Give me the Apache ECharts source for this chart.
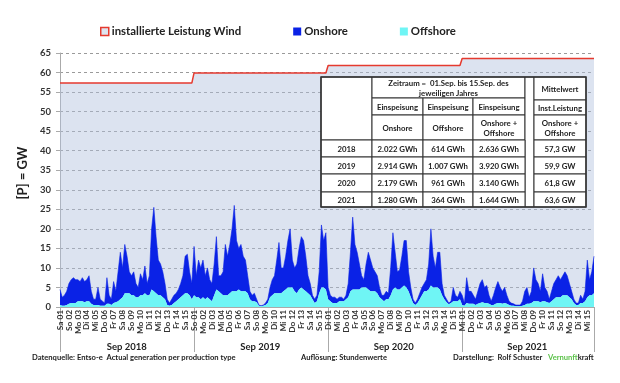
<!DOCTYPE html>
<html>
<head>
<meta charset="utf-8">
<script src="https://cdn.jsdelivr.net/npm/echarts@6/dist/echarts.min.js"></script>
<style>html,body{margin:0;padding:0;background:#fff}#c{width:620px;height:383px}</style>
</head>
<body>
<div id="c"></div>
<script>
// ---- data (6-hour resolution) ----
const years = ['2018', '2019', '2020', '2021'];
const yearAxisLabels = ['Sep 2018', 'Sep 2019', 'Sep 2020', 'Sep 2021'];
const dayLabels2018 = ['Sa 01','So 02','Mo 03','Di 04','Mi 05','Do 06','Fr 07','Sa 08','So 09','Mo 10','Di 11','Mi 12','Do 13','Fr 14','Sa 15'];
const dayLabels2019 = ['So 01','Mo 02','Di 03','Mi 04','Do 05','Fr 06','Sa 07','So 08','Mo 09','Di 10','Mi 11','Do 12','Fr 13','Sa 14','So 15'];
const dayLabels2020 = ['Di 01','Mi 02','Do 03','Fr 04','Sa 05','So 06','Mo 07','Di 08','Mi 09','Do 10','Fr 11','Sa 12','So 13','Mo 14','Di 15'];
const dayLabels2021 = ['Mi 01','Do 02','Fr 03','Sa 04','So 05','Mo 06','Di 07','Mi 08','Do 09','Fr 10','Sa 11','So 12','Mo 13','Di 14','Mi 15'];
const slotHours = ['00', '06', '12', '18'];

const onshore2018 = [4.0,2.2,2.7,3.5, 5.2,6.0,6.5,6.0, 5.5,5.0,6.0,5.3, 5.5,6.5,3.2,1.5, 1.5,4.5,1.7,1.2,
  0.7,6.7,2.2,1.5, 5.5,2.8,7.5,12, 7.5,12.5,9.5,5.5, 5.0,6.0,3.5,2.5, 5.5,4.0,7.0,3.0,
  5.0,15.5,21.5,14.5, 9.0,8.0,6.5,4.0, 1.5,0.7,1.5,2.0, 2.0,2.5,3.5,5.0, 9.5,10,6,4];
const offshore2018 = [0.5,0.3,0.3,0.5, 0.8,1,1,1, 1.5,1.5,1.5,1.2, 1.5,1.5,0.8,0.5, 0.5,0.5,0.3,0.3,
  0.3,0.8,0.8,0.5, 1,1.2,1.5,2, 2.5,3.5,3.5,3.5, 3,3,2.5,2.5, 3,3,3.5,3,
  3,4.5,4,3.5, 3,3,2.5,2, 0.5,0.3,0.5,1, 1.5,2,2.5,3, 3.5,3.5,3,2];
const onshore2019 = [12.5,5.5,9.5,8, 9.5,6,7.5,5, 4.5,8,13.5,4, 4.5,6,13,10, 12.5,16,22,13,
  10.5,12,9,8, 4.5,2,1.5,2, 0.8,0.2,0.1,0.2, 0.5,1,2.5,4, 4.5,8.5,13,6.5,
  6,8.5,12,15, 7,6,7.5,10.5, 13,12.5,9,4.5, 3,1,1,1.5, 5.5,16,12,14.5];
const offshore2019 = [3,2.5,2.5,2, 2.5,2,2.5,2, 1.5,3,4.5,4, 3.5,3,3,3, 3.5,4,4,4,
  4.5,4,4,4, 3.5,2,1.5,1.5, 1.2,0.3,0.2,0.3, 0.5,1,2.5,3, 3.5,3.5,3.5,3.5,
  4,4.5,5,5, 5,4,3.5,4.5, 5,4.5,4,3.5, 3,2,1,1.5, 3.5,5,5,4.5];
const onshore2020 = [3,1.5,1.5,1.5, 1,1,1,0.5, 1,3.5,10,18.5, 11.5,9.5,6.5,3, 2,6,9.5,8,
  6,5,4.5,2.5, 1,1.5,2,1.5, 7,14.5,9,4.5, 5,8,11.5,12, 5,2.5,1,0.5,
  1,1.5,2,2, 3,6.5,14.5,8, 5,9,9.5,3, 1,0.8,0.3,0.5, 3.5,1.5,1,2];
const offshore2020 = [2,1.5,1,1, 1,1.5,1.5,1.5, 2,2.5,4,4.5, 4.5,4.5,4.5,5, 5,5,4.5,4,
  4,4,3.5,2.5, 2,1.5,2,2, 3,4.5,5,4.5, 4.5,5,5.5,5, 4,2.5,1,0.5,
  1,2,3,4, 4,4.5,5.5,5, 5,5,4.5,3, 2,1.2,0.7,1, 1.5,1.5,1.5,2];
const onshore2021 = [2.5,0.7,6.5,3.2, 3.2,2.2,1.5,3.2, 5,5.8,4,4.5, 2.2,1,2.5,4.2, 5.5,4,3.2,4,
  2.2,1,0.7,0.5, 0.3,0.3,0.3,1.2, 3.5,4.2,1.7,3, 8.5,5.5,4.5,2.8, 7,3.5,2.8,1,
  2.5,4,4.5,5.5, 4.5,5,6,5, 3.5,2,1,0.5, 0.5,2,1,2.5, 9.5,4,6,9.5];
const offshore2021 = [0.5,0.3,1,0.8, 0.8,0.8,0.5,0.8, 1,1.2,1,1, 0.8,0.5,0.5,0.8, 1,1,0.8,1,
  0.8,0.5,0.3,0.3, 0.2,0.2,0.2,0.3, 0.5,0.8,0.8,1, 1.5,1.5,1.5,1.2, 1.5,1.5,1.2,1,
  1.5,2,2.5,2.5, 2.5,3,3,3, 2.5,2,1,0.5, 0.5,1,1,1.5, 2.5,3,3,3.5];

const installedGW = [57.3, 59.9, 61.8, 63.6];

// table texts
const tableOnshore = ['2.022 GWh', '2.914 GWh', '2.179 GWh', '1.280 GWh'];
const tableOffshore = ['614 GWh', '1.007 GWh', '961 GWh', '364 GWh'];
const tableTotal = ['2.636 GWh', '3.920 GWh', '3.140 GWh', '1.644 GWh'];

const yTicks = {min: 0, max: 65, interval: 5};

// ---- build ----
const dayLabels = [dayLabels2018, dayLabels2019, dayLabels2020, dayLabels2021];
const onshoreAll = [].concat(onshore2018, onshore2019, onshore2020, onshore2021);
const offshoreAll = [].concat(offshore2018, offshore2019, offshore2020, offshore2021);
const categories = [];
const capacityAll = [];
years.forEach((y, yi) => {
  dayLabels[yi].forEach(d => {
    slotHours.forEach(h => {
      categories.push(y + '|' + d + '|' + h);
      capacityAll.push(installedGW[yi]);
    });
  });
});
const N = categories.length;
const perYear = N / years.length;

const FONT = 'Lato';
const chart = echarts.init(document.getElementById('c'), null, {renderer: 'canvas'});

// table graphic
const X = [321, 372, 423, 473, 525, 534, 586];
const Y = [77, 98, 115, 140, 157, 174, 192, 207];
const tableEls = [];
function cell(x0, y0, x1, y1, text) {
  tableEls.push({type: 'rect', shape: {x: x0, y: y0, width: x1 - x0, height: y1 - y0},
    style: {fill: '#fff', stroke: '#333', lineWidth: 1}, z: 100});
  if (text) {
    tableEls.push({type: 'text', x: (x0 + x1) / 2, y: (y0 + y1) / 2 + 0.5, z: 101,
      style: {text: text, align: 'center', verticalAlign: 'middle', fontSize: 7.8, fontWeight: 'bold',
        fontFamily: FONT, fill: '#222', lineHeight: 10}});
  }
}
cell(X[0], Y[0], X[1], Y[3], '');
cell(X[1], Y[0], X[4], Y[1], 'Zeitraum =  01.Sep. bis 15.Sep. des\njeweiligen Jahres');
cell(X[1], Y[1], X[2], Y[2], 'Einspeisung');
cell(X[2], Y[1], X[3], Y[2], 'Einspeisung');
cell(X[3], Y[1], X[4], Y[2], 'Einspeisung');
cell(X[1], Y[2], X[2], Y[3], 'Onshore');
cell(X[2], Y[2], X[3], Y[3], 'Offshore');
cell(X[3], Y[2], X[4], Y[3], 'Onshore +\nOffshore');
cell(X[4], Y[0], X[5], Y[7], '');
cell(X[5], Y[0], X[6], Y[1] + 2, 'Mittelwert');
cell(X[5], Y[1] + 2, X[6], Y[2], 'Inst.Leistung');
cell(X[5], Y[2], X[6], Y[3], 'Onshore +\nOffshore');
years.forEach((y, i) => {
  cell(X[0], Y[3 + i], X[1], Y[4 + i], y);
  cell(X[1], Y[3 + i], X[2], Y[4 + i], tableOnshore[i]);
  cell(X[2], Y[3 + i], X[3], Y[4 + i], tableOffshore[i]);
  cell(X[3], Y[3 + i], X[4], Y[4 + i], tableTotal[i]);
  cell(X[5], Y[3 + i], X[6], Y[4 + i], installedGW[i].toFixed(1).replace('.', ',') + ' GW');
});
tableEls.push({type: 'rect', shape: {x: X[0], y: Y[0], width: X[6] - X[0], height: Y[7] - Y[0]},
  style: {fill: 'none', stroke: '#333', lineWidth: 1.5}, z: 102});

const FS = 7.6;
const footStyle = {fontSize: FS, fontWeight: 'bold', fontFamily: FONT, fill: '#222', verticalAlign: 'middle'};
const footer = [
  {type: 'text', x: 32, y: 358, style: Object.assign({text: 'Datenquelle: Entso-e  Actual generation per production type'}, footStyle)},
  {type: 'text', x: 301, y: 358, style: Object.assign({text: 'Auflösung: Stundenwerte'}, footStyle)},
  {type: 'text', x: 453, y: 358, style: Object.assign({text: 'Darstellung:  Rolf Schuster'}, footStyle)},
  {type: 'text', x: 548, y: 358, style: Object.assign({text: '{g|Vernunft}{k|kraft}',
    rich: {g: {fill: '#5cc24a', fontSize: FS, fontWeight: 'bold', fontFamily: FONT},
           k: {fill: '#222', fontSize: FS, fontWeight: 'bold', fontFamily: FONT}}}, footStyle)}
];

const option = {
  animation: false,
  backgroundColor: '#fff',
  legend: {
    left: 100, top: 26, padding: 0, itemWidth: 8, itemHeight: 8, itemGap: 52,
    textStyle: {fontSize: 11.4, fontWeight: 'bold', fontFamily: FONT, color: '#222', padding: [0, 0, 0, -2]},
    data: [
      {name: 'installierte Leistung Wind', icon: 'rect', itemStyle: {color: '#dfe4ef', borderColor: '#e53a2f', borderWidth: 1.5}},
      {name: 'Onshore', icon: 'rect', itemStyle: {color: '#0a22e6'}},
      {name: 'Offshore', icon: 'rect', itemStyle: {color: '#6ff5f5'}}
    ]
  },
  grid: {left: 60, right: 26, top: 53, bottom: 76, containLabel: false, outerBoundsMode: 'none'},
  xAxis: [{
    type: 'category', data: categories, boundaryGap: false,
    axisLine: {lineStyle: {color: '#aaa', width: 1}},
    axisTick: {show: true, length: 45, interval: (i) => i % perYear === 0 || i === N - 1,
      lineStyle: {color: '#aaa', width: 1}},
    axisLabel: {interval: (i) => i % 4 === 0, rotate: 90, fontSize: 8.3, fontFamily: FONT, fontWeight: 'bold',
      color: '#333', margin: 3, formatter: (v) => v.split('|')[1]},
    splitLine: {show: false}
  }, {
    type: 'category', data: yearAxisLabels, position: 'bottom', offset: 33, boundaryGap: true,
    axisLine: {show: false, onZero: false}, axisTick: {show: false}, splitLine: {show: false},
    axisLabel: {margin: 2, fontSize: 9.5, fontWeight: 'bold', fontFamily: FONT, color: '#222'}
  }],
  yAxis: {
    type: 'value', min: yTicks.min, max: yTicks.max, interval: yTicks.interval,
    name: '[P] = GW', nameLocation: 'middle', nameGap: 30, nameRotate: 90,
    nameTextStyle: {fontSize: 13, fontWeight: 'bold', fontFamily: FONT, color: '#222', padding: [0, 0, 0, 14]},
    axisLine: {show: true, lineStyle: {color: '#aaa'}},
    axisTick: {show: true, length: 4, lineStyle: {color: '#aaa'}},
    axisLabel: {fontSize: 9.5, fontWeight: 'bold', fontFamily: FONT, color: '#333', margin: 9},
    splitLine: {show: true, lineStyle: {color: '#9a9a9a', type: [3, 3], width: 1}}
  },
  series: [{
    name: 'installierte Leistung Wind', type: 'line', data: capacityAll, symbol: 'none',
    lineStyle: {color: '#e53a2f', width: 1.5}, itemStyle: {color: '#e53a2f'},
    areaStyle: {color: 'rgba(178,192,222,0.45)', opacity: 1}, z: 1
  }, {
    name: 'Offshore', type: 'line', stack: 'gen', data: offshoreAll, symbol: 'none',
    lineStyle: {width: 0}, itemStyle: {color: '#6ff5f5'},
    areaStyle: {color: '#6ff5f5', opacity: 1}, z: 3
  }, {
    name: 'Onshore', type: 'line', stack: 'gen', data: onshoreAll, symbol: 'none',
    lineStyle: {width: 0.6, color: '#0a22e6'}, itemStyle: {color: '#0a22e6'},
    areaStyle: {color: '#0a22e6', opacity: 1}, z: 2
  }],
  graphic: tableEls.concat(footer)
};
chart.setOption(option);
</script>
</body>
</html>
